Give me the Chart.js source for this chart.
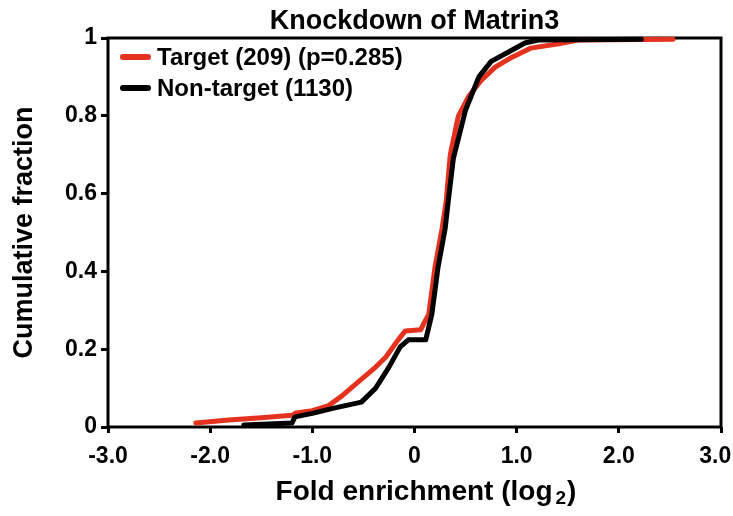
<!DOCTYPE html>
<html>
<head>
<meta charset="utf-8">
<script src="https://cdn.jsdelivr.net/npm/chart.js@4/dist/chart.umd.min.js"></script>
<style>
  html, body { margin: 0; padding: 0; background: #fff; }
  #wrap { width: 733px; height: 516px; position: relative; }
</style>
</head>
<body>
<div id="wrap"><canvas id="cdf"></canvas></div>
<script>
// values (log2 fold enrichment vs cumulative fraction)
const targetX = [-2.14, -1.82, -1.5, -1.2, -1.16, -1.0, -0.84, -0.71, -0.55, -0.38, -0.28, -0.16, -0.09, 0.06, 0.14, 0.2, 0.27, 0.31, 0.35, 0.43, 0.53, 0.65, 0.79, 0.95, 1.14, 1.41, 1.6, 2.53];
const targetY = [0.01, 0.018, 0.024, 0.03, 0.036, 0.042, 0.055, 0.08, 0.116, 0.154, 0.18, 0.224, 0.247, 0.25, 0.29, 0.41, 0.51, 0.58, 0.70, 0.80, 0.85, 0.89, 0.925, 0.95, 0.974, 0.985, 0.995, 0.997];
const nonTargetX = [-1.67, -1.2, -1.17, -1.0, -0.8, -0.52, -0.38, -0.25, -0.14, -0.06, 0.11, 0.17, 0.23, 0.30, 0.33, 0.38, 0.50, 0.63, 0.75, 0.92, 1.08, 1.21, 2.22];
const nonTargetY = [0.005, 0.01, 0.026, 0.035, 0.048, 0.064, 0.10, 0.154, 0.206, 0.224, 0.224, 0.29, 0.41, 0.51, 0.58, 0.69, 0.815, 0.90, 0.94, 0.964, 0.987, 0.995, 0.997];
const xTicks = [-3, -2, -1, 0, 1, 2, 3];
const yTicks = [0, 0.2, 0.4, 0.6, 0.8, 1];

const FONT = '"Liberation Sans", Arial, sans-serif';
const RED = '#e5321f';

const toPoints = (xs, ys) => xs.map((x, i) => ({ x, y: ys[i] }));

// title, axis titles, legend and frame drawn by hand so they sit where the reference has them
const decorations = {
  id: 'decorations',
  beforeDatasetsDraw(chart) {
    const { ctx, chartArea: a } = chart;
    ctx.save();
    ctx.strokeStyle = '#000';
    ctx.lineWidth = 3;
    ctx.strokeRect(a.left, a.top, a.right - a.left, a.bottom - a.top);
    ctx.restore();
  },
  afterDraw(chart) {
    const { ctx, chartArea: a } = chart;
    ctx.save();
    ctx.fillStyle = '#000';
    ctx.textBaseline = 'middle';

    ctx.font = `bold 27px ${FONT}`;
    ctx.textAlign = 'center';
    ctx.fillText('Knockdown of Matrin3', (a.left + a.right) / 2, 22);

    // x title with subscript
    const main = 'Fold enrichment (log';
    ctx.font = `bold 28px ${FONT}`;
    const w1 = ctx.measureText(main).width;
    const w3 = ctx.measureText(')').width;
    ctx.font = `bold 19px ${FONT}`;
    const w2 = ctx.measureText('2').width + 4;
    let x0 = 426 - (w1 + w2 + w3) / 2;
    ctx.textAlign = 'left';
    ctx.font = `bold 28px ${FONT}`;
    ctx.fillText(main, x0, 492);
    ctx.font = `bold 19px ${FONT}`;
    ctx.fillText('2', x0 + w1 + 3, 499);
    ctx.font = `bold 28px ${FONT}`;
    ctx.fillText(')', x0 + w1 + w2, 492);

    // y title
    ctx.save();
    ctx.translate(25, (a.top + a.bottom) / 2);
    ctx.rotate(-Math.PI / 2);
    ctx.textAlign = 'center';
    ctx.font = `bold 27px ${FONT}`;
    ctx.fillText('Cumulative fraction', 0, 0);
    ctx.restore();

    // legend
    const items = [['Target (209) (p=0.285)', RED, 57], ['Non-target (1130)', '#000', 88]];
    ctx.lineCap = 'round';
    ctx.lineWidth = 6;
    ctx.font = `bold 24px ${FONT}`;
    ctx.textAlign = 'left';
    items.forEach(([label, color, y]) => {
      ctx.strokeStyle = color;
      ctx.beginPath();
      ctx.moveTo(123, y);
      ctx.lineTo(148, y);
      ctx.stroke();
      ctx.fillText(label, 157, y + 1);
    });
    ctx.restore();
  }
};

const tickFont = { family: FONT, size: 23, weight: 'bold' };

new Chart(document.getElementById('cdf'), {
  type: 'line',
  data: {
    datasets: [
      { label: 'Target (209) (p=0.285)', data: toPoints(targetX, targetY), borderColor: RED, order: 2 },
      { label: 'Non-target (1130)', data: toPoints(nonTargetX, nonTargetY), borderColor: '#000', order: 1 }
    ]
  },
  options: {
    responsive: true,
    maintainAspectRatio: false,
    animation: false,
    layout: { padding: { top: 38, right: 12, left: 0, bottom: 0 } },
    elements: {
      point: { radius: 0 },
      line: { borderWidth: 5, tension: 0, borderJoinStyle: 'round', borderCapStyle: 'round' }
    },
    datasets: { line: { clip: false } },
    plugins: { legend: { display: false }, title: { display: false }, tooltip: { enabled: false } },
    scales: {
      x: {
        type: 'linear', min: -3, max: 3,
        afterBuildTicks: s => { s.ticks = xTicks.map(v => ({ value: v })); },
        afterFit: s => { s.height = 89; s.paddingLeft = 0; s.paddingRight = 0; },
        ticks: { color: '#000', font: tickFont, padding: 10, maxRotation: 0,
          // last label nudged left so it stays inside the picture, as in the reference
          callback: v => v === 0 ? '0' : (v === 3 ? '3.0\u2002' : v.toFixed(1)) },
        grid: { drawOnChartArea: false, drawTicks: true, tickLength: 6, tickWidth: 3, tickColor: '#000' },
        border: { display: false }
      },
      y: {
        min: 0, max: 1,
        afterBuildTicks: s => { s.ticks = yTicks.map(v => ({ value: v })); },
        afterFit: s => { s.width = 108; s.paddingTop = 0; s.paddingBottom = 0; },
        ticks: { color: '#000', font: tickFont, padding: 4,
          callback: v => (v === 0 || v === 1) ? String(v) : v.toFixed(1) },
        grid: { drawOnChartArea: false, drawTicks: true, tickLength: 7, tickWidth: 3, tickColor: '#000' },
        border: { display: false }
      }
    }
  },
  plugins: [decorations]
});
</script>
</body>
</html>
